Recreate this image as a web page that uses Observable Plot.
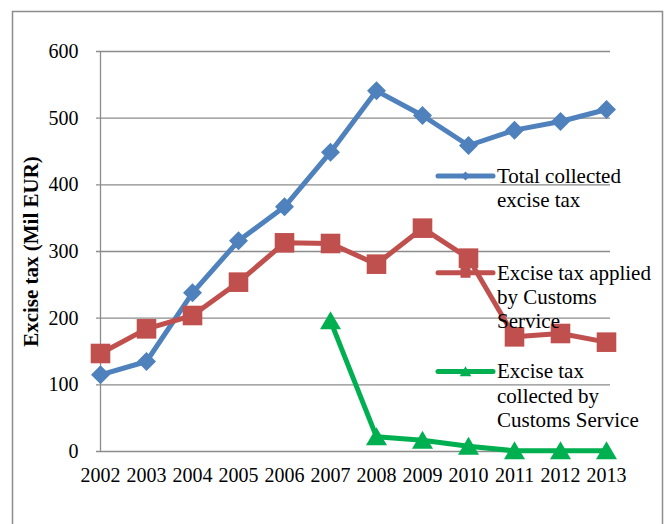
<!DOCTYPE html>
<html>
<head>
<meta charset="utf-8">
<script src="https://cdn.jsdelivr.net/npm/d3@7"></script>
<script src="https://cdn.jsdelivr.net/npm/@observablehq/plot@0.6"></script>
<style>
  html, body { margin: 0; padding: 0; background: #fff; overflow: hidden; }
  #chart { width: 665px; height: 524px; }
</style>
</head>
<body>
<div id="chart"></div>
<script>
// ---- Data ----
const years = ["2002","2003","2004","2005","2006","2007","2008","2009","2010","2011","2012","2013"];
const totalCollected     = [115, 135, 238, 316, 367, 449, 541, 504, 459, 482, 495, 513];
const appliedByCustoms   = [147, 184, 204, 254, 313, 312, 281, 335, 290, 172, 177, 164];
const collectedByCustoms = [null, null, null, null, null, 196, 22, 17, 8, 1, 1, 1];
const seriesNames = ["Total collected excise tax", "Excise tax applied by Customs Service", "Excise tax collected by Customs Service"];
const legendLines = [["Total collected", "excise tax"], ["Excise tax applied", "by Customs", "Service"], ["Excise tax", "collected by", "Customs Service"]];
const yTicks = [0, 100, 200, 300, 400, 500, 600];
const yTitle = "Excise tax (Mil EUR)";

// ---- Styles ----
const colors = ["#4F81BD", "#C0504D", "#00B050"];
const gridColor = "#8c8c8c";
const font = "'Liberation Serif', 'Times New Roman', serif";

// custom marker symbols (size = r*r*PI as Plot passes it)
const rOf = size => Math.sqrt(size / Math.PI);
const diamond = {draw(ctx, size) { const r = rOf(size); ctx.moveTo(0, -r); ctx.lineTo(r, 0); ctx.lineTo(0, r); ctx.lineTo(-r, 0); ctx.closePath(); }};
const square = {draw(ctx, size) { const r = rOf(size); ctx.moveTo(-r, -r); ctx.lineTo(r, -r); ctx.lineTo(r, r); ctx.lineTo(-r, r); ctx.closePath(); }};
const triangle = {draw(ctx, size) { const r = rOf(size); ctx.moveTo(0, -r * 0.95); ctx.lineTo(r * 1.05, r * 0.85); ctx.lineTo(-r * 1.05, r * 0.85); ctx.closePath(); }};
const symbols = [diamond, square, triangle];
const markerR = [9.5, 9.8, 10];
const legendMarkerR = [4.5, 5, 5.5];

const valuesBySeries = [totalCollected, appliedByCustoms, collectedByCustoms];
const rows = valuesBySeries.map(vals =>
  years.map((year, i) => ({year, value: vals[i]})).filter(d => d.value != null)
);

// legend layout (pixels)
const legendLayout = {lineX0: 438, lineX1: 493, textX: 497, firstBaseline: [182.7, 279.5, 378.3], lineStep: 24.3, fontSize: 21};

function legendMark() {
  const g = d3.create("svg:g");
  legendLines.forEach((lines, i) => {
    const baseY = legendLayout.firstBaseline[i];
    const cy = baseY - 0.32 * legendLayout.fontSize;
    g.append("line")
      .attr("x1", legendLayout.lineX0).attr("x2", legendLayout.lineX1)
      .attr("y1", cy).attr("y2", cy)
      .attr("stroke", colors[i]).attr("stroke-width", 5).attr("stroke-linecap", "round");
    const r = legendMarkerR[i];
    g.append("path")
      .attr("transform", `translate(${(legendLayout.lineX0 + legendLayout.lineX1) / 2},${cy})`)
      .attr("d", d3.symbol(symbols[i], r * r * Math.PI)())
      .attr("fill", colors[i]);
    const t = g.append("text")
      .attr("font-family", font).attr("font-size", legendLayout.fontSize)
      .attr("text-anchor", "start").attr("fill", "#000");
    lines.forEach((ln, j) => {
      t.append("tspan").attr("x", legendLayout.textX).attr("y", baseY + j * legendLayout.lineStep).text(ln);
    });
  });
  return g.node();
}

function borderMark() {
  return d3.create("svg:rect")
    .attr("x", 12.5).attr("y", 11.5).attr("width", 650).attr("height", 620)
    .attr("fill", "none").attr("stroke", gridColor).attr("stroke-width", 1.5).node();
}

const seriesMarks = rows.flatMap((data, i) => [
  Plot.line(data, {x: "year", y: "value", stroke: colors[i], strokeWidth: 5, strokeLinejoin: "round", strokeLinecap: "round"}),
  Plot.dot(data, {x: "year", y: "value", fill: colors[i], stroke: "none", symbol: symbols[i], r: markerR[i]})
]);

const chart = Plot.plot({
  width: 665,
  height: 524,
  marginLeft: 96,
  marginRight: 55,
  marginTop: 51,
  marginBottom: 73,
  style: {fontFamily: font, fontSize: "20px", color: "#000", background: "#fff", overflow: "visible"},
  x: {type: "point", domain: years, padding: 0, inset: 0, tickSize: 0, tickPadding: 16, label: null},
  y: {domain: [0, 600], ticks: yTicks, tickSize: 0, tickPadding: 18, label: null, tickFormat: d => String(d)},
  marks: [
    borderMark,
    Plot.ruleY(yTicks, {stroke: gridColor, strokeWidth: 1.3, strokeOpacity: 1}),
    Plot.ruleX([years[0]], {stroke: gridColor, strokeWidth: 1.3, strokeOpacity: 1}),
    ...seriesMarks,
    Plot.text([yTitle], {text: d => d, frameAnchor: "left", textAnchor: "middle", rotate: -90, dx: -65, fontWeight: "bold", fontSize: 21, fill: "#000"}),
    legendMark
  ]
});
document.getElementById("chart").appendChild(chart);
</script>
</body>
</html>
